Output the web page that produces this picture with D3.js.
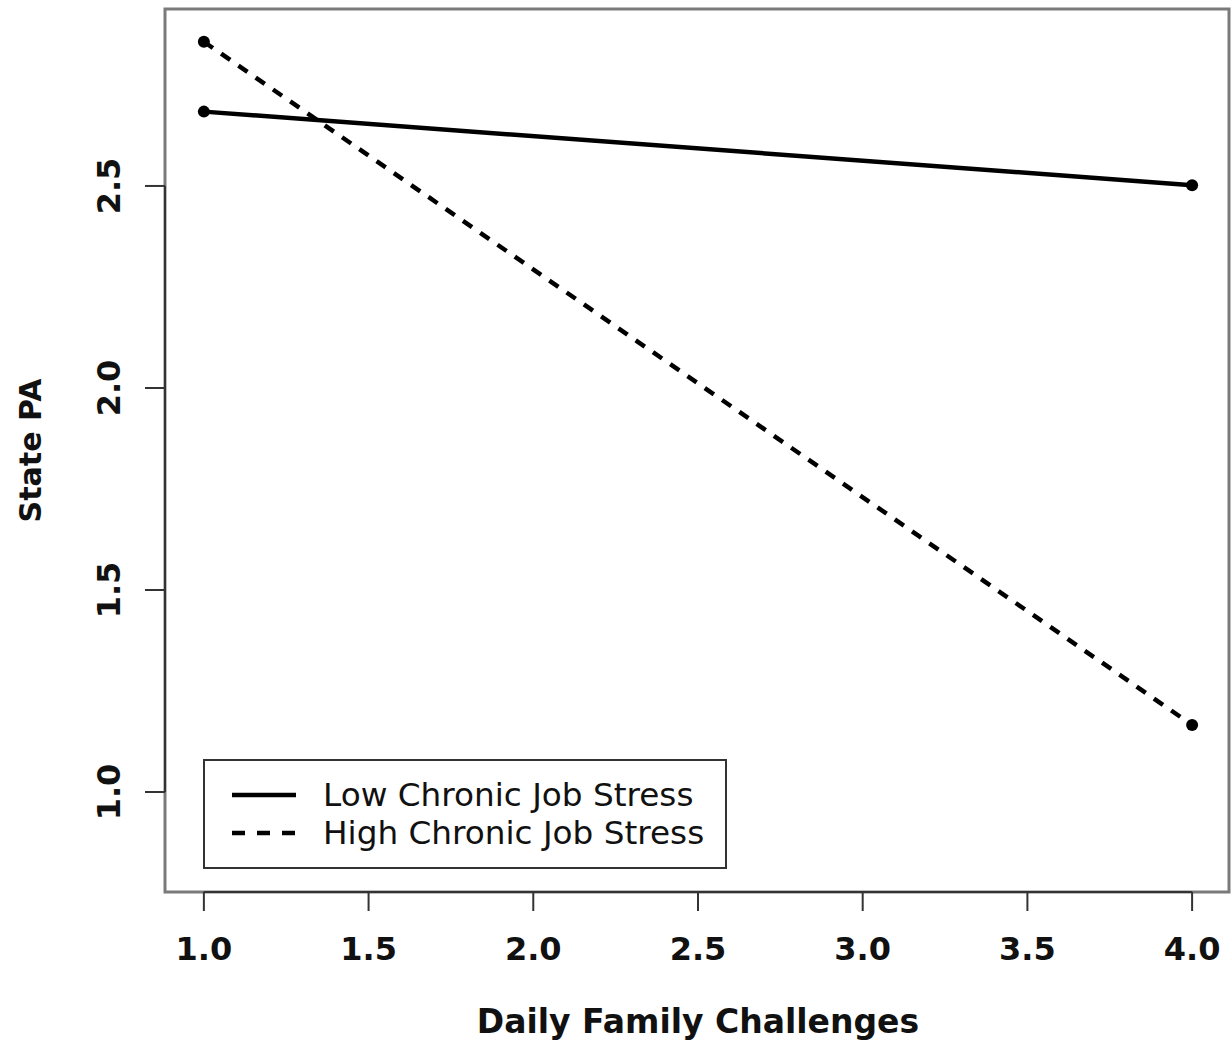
<!DOCTYPE html>
<html>
<head>
<meta charset="utf-8">
<script src="https://cdn.jsdelivr.net/npm/d3@7"></script>
<style>
  body { margin: 0; background: #fff; }
  text { font-family: "DejaVu Sans", sans-serif; fill: #111; }
</style>
</head>
<body>
<div id="chart"></div>
<script>
// values
const xValues = [1, 4];
const lowStress = [2.684, 2.502];
const highStress = [2.857, 1.166];
const seriesNames = ["Low Chronic Job Stress", "High Chronic Job Stress"];
const xTicks = [1.0, 1.5, 2.0, 2.5, 3.0, 3.5, 4.0];
const yTicks = [1.0, 1.5, 2.0, 2.5];

const width = 1231, height = 1045;
const svg = d3.select("#chart").append("svg")
    .attr("width", width)
    .attr("height", height);

// plot region (R style usr extents)
const plotLeft = 165, plotRight = 1229, plotTop = 9, plotBottom = 892;
const x = d3.scaleLinear().domain([0.882, 4.112]).range([plotLeft, plotRight]);
const y = d3.scaleLinear().domain([0.7525, 2.938]).range([plotBottom, plotTop]);

// box
svg.append("rect")
    .attr("x", plotLeft).attr("y", plotTop)
    .attr("width", plotRight - plotLeft).attr("height", plotBottom - plotTop)
    .attr("fill", "none")
    .attr("stroke", "#7a7a7a")
    .attr("stroke-width", 3);

// x axis
const xAxis = svg.append("g").attr("transform", "translate(0," + plotBottom + ")");
xAxis.append("line")
    .attr("x1", x(xTicks[0])).attr("x2", x(xTicks[xTicks.length - 1]))
    .attr("stroke", "#333").attr("stroke-width", 2);
xAxis.selectAll(".tick").data(xTicks).enter()
    .append("line")
    .attr("x1", d => x(d)).attr("x2", d => x(d))
    .attr("y1", 0).attr("y2", 19)
    .attr("stroke", "#333").attr("stroke-width", 2);
xAxis.selectAll(".lab").data(xTicks).enter()
    .append("text")
    .attr("x", d => x(d))
    .attr("y", 68)
    .attr("text-anchor", "middle")
    .style("font-size", "32px")
    .style("font-weight", "bold")
    .text(d => d.toFixed(1));

// y axis
const yAxis = svg.append("g").attr("transform", "translate(" + plotLeft + ",0)");
yAxis.append("line")
    .attr("y1", y(yTicks[0])).attr("y2", y(yTicks[yTicks.length - 1]))
    .attr("stroke", "#333").attr("stroke-width", 2);
yAxis.selectAll(".tick").data(yTicks).enter()
    .append("line")
    .attr("y1", d => y(d)).attr("y2", d => y(d))
    .attr("x1", 0).attr("x2", -20)
    .attr("stroke", "#333").attr("stroke-width", 2);
yAxis.selectAll(".lab").data(yTicks).enter()
    .append("text")
    .attr("transform", d => "translate(-45," + y(d) + ") rotate(-90)")
    .attr("text-anchor", "middle")
    .style("font-size", "32px")
    .style("font-weight", "bold")
    .text(d => d.toFixed(1));

// axis titles
svg.append("text")
    .attr("x", (x(1) + x(4)) / 2)
    .attr("y", 1033)
    .attr("text-anchor", "middle")
    .style("font-size", "33px")
    .style("font-weight", "bold")
    .text("Daily Family Challenges");

svg.append("text")
    .attr("transform", "translate(41," + (plotBottom + plotTop) / 2 + ") rotate(-90)")
    .attr("text-anchor", "middle")
    .style("font-size", "30px")
    .style("font-weight", "bold")
    .text("State PA");

// lines + points
const line = d3.line()
    .x((d, i) => x(xValues[i]))
    .y(d => y(d));

const series = [
    { name: seriesNames[0], values: lowStress, dash: null },
    { name: seriesNames[1], values: highStress, dash: "11,10" }
];

series.forEach(s => {
    svg.append("path")
        .datum(s.values)
        .attr("d", line)
        .attr("fill", "none")
        .attr("stroke", "#000")
        .attr("stroke-width", 4.5)
        .attr("stroke-dasharray", s.dash);
    svg.selectAll(null)
        .data(s.values).enter()
        .append("circle")
        .attr("cx", (d, i) => x(xValues[i]))
        .attr("cy", d => y(d))
        .attr("r", 6)
        .attr("fill", "#000");
});

// legend
const legend = svg.append("g");
legend.append("rect")
    .attr("x", 204).attr("y", 760)
    .attr("width", 522).attr("height", 108)
    .attr("fill", "#fff")
    .attr("stroke", "#333")
    .attr("stroke-width", 2);
series.forEach((s, i) => {
    const ly = 795 + i * 38;
    legend.append("line")
        .attr("x1", 232).attr("x2", 296)
        .attr("y1", ly).attr("y2", ly)
        .attr("stroke", "#000")
        .attr("stroke-width", 4.5)
        .attr("stroke-dasharray", s.dash ? "13,12" : null);
    legend.append("text")
        .attr("x", 323)
        .attr("y", ly + 11)
        .style("font-size", "32.7px")
        .text(s.name);
});
</script>
</body>
</html>
